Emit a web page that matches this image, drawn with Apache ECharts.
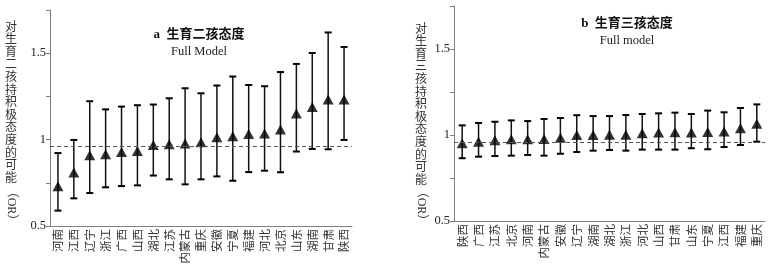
<!DOCTYPE html>
<html>
<head>
<meta charset="utf-8">
<script src="https://cdn.jsdelivr.net/npm/echarts@6/dist/echarts.min.js"></script>
<style>
  html, body { margin: 0; padding: 0; background: #fff; }
  #main { width: 774px; height: 276px; }
</style>
</head>
<body>
<div id="main"></div>
<script>
// a 生育二孩态度
const provincesA = ['河南', '江西', '辽宁', '浙江', '广西', '山西', '湖北', '江苏', '内蒙古', '重庆',
  '安徽', '宁夏', '福建', '河北', '北京', '山东', '湖南', '甘肃', '陕西'];
const orA = [0.73, 0.81, 0.91, 0.915, 0.928, 0.934, 0.969, 0.973, 0.977, 0.984,
  1.013, 1.019, 1.032, 1.035, 1.058, 1.151, 1.189, 1.232, 1.232];
const lowA = [0.589, 0.66, 0.691, 0.724, 0.731, 0.735, 0.792, 0.77, 0.741, 0.77,
  0.787, 0.762, 0.812, 0.82, 0.811, 0.931, 0.946, 0.944, 0.998];
const highA = [0.922, 0.998, 1.222, 1.175, 1.191, 1.199, 1.203, 1.239, 1.297, 1.268,
  1.313, 1.365, 1.316, 1.309, 1.391, 1.438, 1.501, 1.62, 1.536];

// b 生育三孩态度
const provincesB = ['陕西', '广西', '江苏', '北京', '河南', '内蒙古', '安徽', '辽宁', '湖南', '湖北',
  '浙江', '河北', '山西', '甘肃', '山东', '宁夏', '江西', '福建', '重庆'];
const orB = [0.952, 0.961, 0.969, 0.975, 0.975, 0.977, 0.984, 1.0, 1.0, 1.002,
  1.002, 1.01, 1.014, 1.016, 1.014, 1.017, 1.021, 1.039, 1.066];
const lowB = [0.865, 0.874, 0.878, 0.88, 0.884, 0.88, 0.891, 0.901, 0.909, 0.913,
  0.909, 0.915, 0.915, 0.915, 0.923, 0.917, 0.93, 0.942, 0.961];
const highB = [1.056, 1.07, 1.077, 1.085, 1.081, 1.093, 1.099, 1.115, 1.11, 1.11,
  1.116, 1.122, 1.126, 1.13, 1.122, 1.142, 1.132, 1.157, 1.178];

const refLine = 0.96;
const yMin = 0.5, yMax = 1.75, yStep = 0.25;
const yLabels = [0.5, 1, 1.5];

const serifFont = "'Liberation Serif', 'Noto Sans CJK SC', serif";
const cjkFont = "'Noto Sans CJK SC', sans-serif";

function errorBar(params, api) {
  const i = api.value(0);
  const lo = api.coord([i, api.value(1)]);
  const hi = api.coord([i, api.value(2)]);
  const w = 3.5;
  return {
    type: 'group',
    children: [
      { type: 'line', shape: { x1: lo[0], y1: lo[1], x2: hi[0], y2: hi[1] }, style: { stroke: '#111', lineWidth: 1.5 } },
      { type: 'line', shape: { x1: lo[0] - w, y1: lo[1], x2: lo[0] + w, y2: lo[1] }, style: { stroke: '#000', lineWidth: 2 } },
      { type: 'line', shape: { x1: hi[0] - w, y1: hi[1], x2: hi[0] + w, y2: hi[1] }, style: { stroke: '#000', lineWidth: 2 } }
    ]
  };
}

function xAxisOf(idx, cats) {
  return {
    type: 'category',
    gridIndex: idx,
    data: cats,
    boundaryGap: true,
    axisLine: { lineStyle: { color: '#808080', width: 1 } },
    axisTick: { length: 4, lineStyle: { color: '#808080' } },
    axisLabel: { interval: 0, rotate: 90, margin: 3, fontSize: 11.5, color: '#333', fontFamily: cjkFont }
  };
}

function yAxisOf(idx) {
  return {
    type: 'value',
    gridIndex: idx,
    min: yMin,
    max: yMax,
    interval: yStep,
    splitLine: { show: false },
    axisLine: { show: true, lineStyle: { color: '#808080', width: 1 } },
    axisTick: { show: true, length: 4, lineStyle: { color: '#808080' } },
    axisLabel: {
      fontSize: 12.5, color: '#222', fontFamily: serifFont, margin: 4,
      formatter: v => yLabels.includes(v) ? String(v) : ''
    }
  };
}

function seriesOf(idx, cats, or, low, high) {
  return [
    {
      type: 'custom',
      xAxisIndex: idx, yAxisIndex: idx,
      renderItem: errorBar,
      data: cats.map((c, i) => [i, low[i], high[i]]),
      silent: true,
      markLine: {
        symbol: 'none',
        silent: true,
        label: { show: false },
        lineStyle: { type: [4, 3], color: '#555', width: 1 },
        data: [{ yAxis: refLine }]
      },
      z: 2
    },
    {
      type: 'scatter',
      xAxisIndex: idx, yAxisIndex: idx,
      symbol: 'triangle',
      symbolSize: [11, 10],
      itemStyle: { color: '#000' },
      data: or,
      z: 3
    }
  ];
}

// vertical axis name: one upright glyph per line, then （OR） turned clockwise
function verticalName(x, top, text) {
  const step = 12.6;
  const els = text.split('').map((ch, k) => ({
    type: 'text',
    x: x, y: top + k * step,
    style: { text: ch, font: '12px ' + cjkFont, fill: '#333', align: 'center', verticalAlign: 'top' }
  }));
  els.push({
    type: 'text',
    x: x, y: 206,
    rotation: -Math.PI / 2,
    style: { text: '（OR）', font: '12px ' + serifFont, fill: '#333', align: 'center', verticalAlign: 'middle' }
  });
  return els;
}

function titleOf(x, y, t1, t2) {
  return [
    { type: 'text', x: x, y: y, style: { text: t1, font: 'bold 13px ' + serifFont, fill: '#111', align: 'center', verticalAlign: 'middle' } },
    { type: 'text', x: x, y: y + 17, style: { text: t2, font: '12.5px ' + serifFont, fill: '#222', align: 'center', verticalAlign: 'middle' } }
  ];
}

const option = {
  animation: false,
  backgroundColor: '#fff',
  grid: [
    { left: 50, top: 10, width: 302, height: 216 },
    { left: 454, top: 6, width: 311, height: 215 }
  ],
  xAxis: [xAxisOf(0, provincesA), xAxisOf(1, provincesB)],
  yAxis: [yAxisOf(0), yAxisOf(1)],
  series: [
    ...seriesOf(0, provincesA, orA, lowA, highA),
    ...seriesOf(1, provincesB, orB, lowB, highB)
  ],
  graphic: [
    ...verticalName(11, 20, '对生育二孩持积极态度的可能'),
    ...verticalName(421, 22, '对生育三孩持积极态度的可能'),
    ...titleOf(199, 35, 'a  生育二孩态度', 'Full Model'),
    ...titleOf(627, 24, 'b  生育三孩态度', 'Full model')
  ]
};

const myChart = echarts.init(document.getElementById('main'));
myChart.setOption(option);

window.addEventListener('resize', function () {
  myChart.resize();
}, false);
</script>
</body>
</html>
